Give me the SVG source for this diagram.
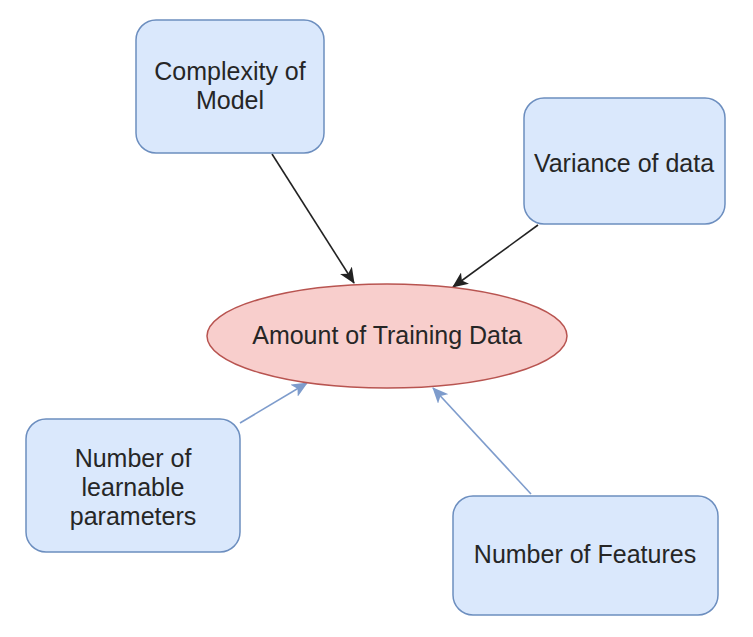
<svg xmlns="http://www.w3.org/2000/svg" width="753" height="637" viewBox="0 0 753 637">
<style>
.box{fill:#dae8fc;stroke:#6c8ebf;stroke-width:1.5}
.ell{fill:#f8cecc;stroke:#b85450;stroke-width:1.5}
.t{font-family:"Liberation Sans",Arial,sans-serif;font-size:25px;fill:#262626;text-anchor:middle}
.dk{stroke:#222;stroke-width:1.6;fill:none}
.bl{stroke:#7e9ccc;stroke-width:1.6;fill:none}
</style>
<defs>
<marker id="ak" markerUnits="userSpaceOnUse" viewBox="0 0 16 14" refX="15" refY="7" markerWidth="16" markerHeight="14" orient="auto">
<path d="M0,0 L16,7 L0,14 L4,7 Z" fill="#222"/>
</marker>
<marker id="ab" markerUnits="userSpaceOnUse" viewBox="0 0 16 14" refX="15" refY="7" markerWidth="16" markerHeight="14" orient="auto">
<path d="M0,0 L16,7 L0,14 L4,7 Z" fill="#7e9ccc"/>
</marker>
</defs>
<rect width="753" height="637" fill="#fff"/>
<g id="connectors">
<line class="dk" x1="272" y1="154" x2="354" y2="283" marker-end="url(#ak)"/>
<line class="dk" x1="538" y1="225" x2="453" y2="287" marker-end="url(#ak)"/>
<line class="bl" x1="240" y1="423" x2="307" y2="383" marker-end="url(#ab)"/>
<line class="bl" x1="531" y1="494" x2="433" y2="388" marker-end="url(#ab)"/>
</g>
<g id="complexity">
<rect class="box" x="136" y="20" width="188" height="133" rx="20"/>
<text class="t" x="230" y="80">Complexity of</text>
<text class="t" x="230" y="109">Model</text>
</g>
<g id="variance">
<rect class="box" x="524" y="98" width="201" height="126" rx="20"/>
<text class="t" x="624" y="172">Variance of data</text>
</g>
<g id="amount">
<ellipse class="ell" cx="387" cy="336" rx="180" ry="52"/>
<text class="t" x="387" y="344">Amount of Training Data</text>
</g>
<g id="learnable">
<rect class="box" x="26" y="419" width="214" height="133" rx="20"/>
<text class="t" x="133" y="467">Number of</text>
<text class="t" x="133" y="496">learnable</text>
<text class="t" x="133" y="525">parameters</text>
</g>
<g id="features">
<rect class="box" x="453" y="496" width="265" height="119" rx="20"/>
<text class="t" x="585" y="563">Number of Features</text>
</g>
</svg>
